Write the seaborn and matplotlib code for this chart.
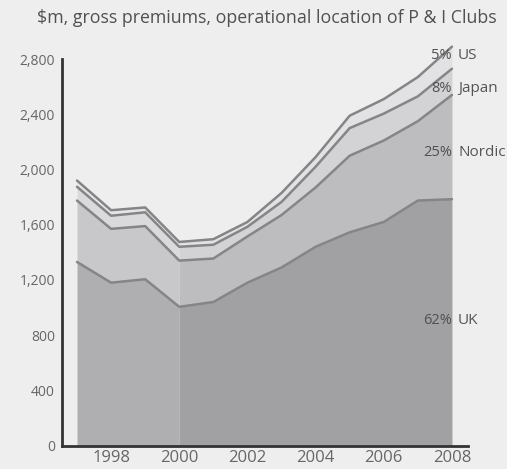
import numpy as np
import pandas as pd
import matplotlib
matplotlib.use('Agg')
import matplotlib.pyplot as plt
import seaborn as sns

# values ($m)
years = [1997, 1998, 1999, 2000, 2001, 2002, 2003, 2004, 2005, 2006, 2007, 2008]
uk = [1330, 1180, 1205, 1005, 1040, 1180, 1290, 1440, 1545, 1620, 1775, 1785]
nordic = [445, 390, 385, 335, 315, 335, 380, 430, 555, 590, 575, 755]
japan = [100, 95, 100, 100, 100, 70, 95, 150, 200, 195, 180, 190]
us = [45, 40, 35, 35, 40, 35, 65, 70, 90, 105, 140, 160]

series = ['UK', 'Nordic', 'Japan', 'US']
shares = ['62%', '25%', '8%', '5%']
label_y = [909, 2125, 2589, 2828]
y_ticks = [0, 400, 800, 1200, 1600, 2000, 2400, 2800]
x_ticks = [1998, 2000, 2002, 2004, 2006, 2008]

bg = '#eeeeee'
dark_cols = ['#a1a1a4', '#bdbdc0', '#d3d3d5', '#e2e2e4']
light_cols = ['#afafb2', '#c8c8cb', '#dadadc', '#e6e6e8']
line_col = '#858587'

sns.set_theme(style='white')
plt.rcParams['font.family'] = ['Open Sans', 'DejaVu Sans']

fig = plt.figure(figsize=(5.07, 4.69), dpi=100, facecolor=bg)
ax = fig.add_axes([0.1223, 0.050, 0.8007, 0.824])
ax.set_facecolor(bg)

x = np.array(years)
vals = np.array([uk, nordic, japan, us])
tops = np.cumsum(vals, axis=0)
bottoms = np.vstack([np.zeros(len(years)), tops[:-1]])

# earlier years (to 2000) shown in lighter shades
early = x <= 2000
late = x >= 2000
for i in range(len(series)):
    f1 = ax.fill_between(x[early], bottoms[i][early], tops[i][early],
                         color=light_cols[i], lw=0, zorder=1)
    f2 = ax.fill_between(x[late], bottoms[i][late], tops[i][late],
                         color=dark_cols[i], lw=0, zorder=1)
    f1.set_clip_on(False)
    f2.set_clip_on(False)

# boundary lines
lines = pd.DataFrame({'year': np.tile(x, len(series)),
                      'value': tops.ravel(),
                      'series': np.repeat(series, len(years))})
sns.lineplot(data=lines, x='year', y='value', hue='series',
             palette=[line_col] * len(series), lw=1.8, legend=False,
             ax=ax, zorder=2, clip_on=False)

ax.set_xlim(1996.56, 2008.47)
ax.set_ylim(0, 2800)
ax.set_xlabel('')
ax.set_ylabel('')

ax.set_yticks(y_ticks)
ax.set_yticklabels([f'{v:,}' for v in y_ticks])
ax.set_xticks(x_ticks)
ax.set_xticklabels([str(v) for v in x_ticks])
ax.tick_params(axis='y', direction='in', length=8, width=2, color='#333333',
               labelsize=10, labelcolor='#666666', pad=5)
ax.tick_params(axis='x', length=0, labelsize=12, labelcolor='#666666', pad=3)
ax.set_xticks([2008.47], minor=True)
ax.tick_params(axis='x', which='minor', direction='in', length=8, width=2,
               color='#333333')

for s in ['top', 'right']:
    ax.spines[s].set_visible(False)
for s in ['left', 'bottom']:
    ax.spines[s].set_linewidth(2)
    ax.spines[s].set_color('#333333')
    ax.spines[s].set_zorder(3)

for name, pct, yv in zip(series, shares, label_y):
    ax.text(2008.0, yv, pct, ha='right', va='center', fontsize=10.5,
            color='#505050', zorder=4, clip_on=False)
    ax.text(2008.18, yv, name, ha='left', va='center', fontsize=11,
            color='#555555', zorder=4, clip_on=False)

fig.text(0.073, 0.962, '$m, gross premiums, operational location of P & I Clubs',
         ha='left', va='center', fontsize=12.8, color='#505050')

fig.savefig('out.png', dpi=100, facecolor=bg)
